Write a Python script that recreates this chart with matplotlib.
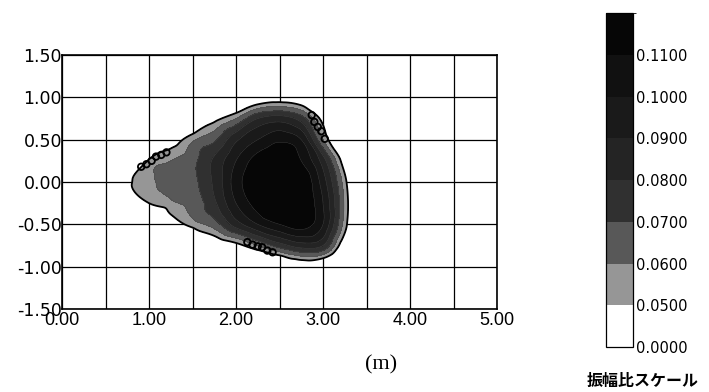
import numpy as np
import matplotlib
matplotlib.use("Agg")
import matplotlib.pyplot as plt
import matplotlib.tri as mtri
from matplotlib.colors import ListedColormap, BoundaryNorm

# amplitude ratio on a 0.25 m grid
xs = [0.5, 0.75, 1.0, 1.25, 1.5, 1.75, 2.0, 2.25, 2.5, 2.75, 3.0, 3.25, 3.5]
ys = [-1.25, -1.0, -0.75, -0.5, -0.25, 0.0, 0.25, 0.5, 0.75, 1.0, 1.25]
amp = [
    [0, 0, 0, 0, 0, 0, 0, 0, 0, 0, 0, 0, 0],
    [0, 0, 0, 0, 0, 0, 0.005, 0.012, 0.022, 0.035, 0.03, 0.01, 0],
    [0, 0, 0, 0, 0.012, 0.035, 0.045, 0.06, 0.075, 0.085, 0.08, 0.038, 0],
    [0, 0, 0.012, 0.04, 0.055, 0.065, 0.085, 0.10, 0.11, 0.115, 0.10, 0.055, 0],
    [0, 0.03, 0.05, 0.058, 0.063, 0.078, 0.10, 0.115, 0.125, 0.12, 0.10, 0.058, 0],
    [0, 0.045, 0.058, 0.062, 0.067, 0.082, 0.105, 0.12, 0.125, 0.12, 0.095, 0.054, 0],
    [0, 0.012, 0.052, 0.06, 0.067, 0.082, 0.10, 0.115, 0.12, 0.11, 0.085, 0.042, 0],
    [0, 0, 0.012, 0.04, 0.058, 0.068, 0.088, 0.10, 0.108, 0.10, 0.06, 0.02, 0],
    [0, 0, 0, 0.005, 0.022, 0.045, 0.06, 0.08, 0.085, 0.075, 0.045, 0.01, 0],
    [0, 0, 0, 0, 0, 0.005, 0.02, 0.035, 0.04, 0.035, 0.012, 0, 0],
    [0, 0, 0, 0, 0, 0, 0, 0, 0, 0, 0, 0, 0],
]

levels = [0.0, 0.05, 0.06, 0.07, 0.08, 0.09, 0.10, 0.11, 0.14]
band_colors = ['none', '#969696', '#585858', '#303030',
               '#242424', '#1a1a1a', '#111111', '#060606']
tick_vals = [0.0, 0.05, 0.06, 0.07, 0.08, 0.09, 0.10, 0.11]

# small circle marks along the outer contour
mark_x = [0.91, 0.97, 1.03, 1.08, 1.14, 1.20,
          2.87, 2.90, 2.94, 2.98, 3.02,
          2.13, 2.19, 2.25, 2.30, 2.36, 2.42]
mark_y = [0.18, 0.21, 0.25, 0.30, 0.32, 0.35,
          0.79, 0.71, 0.65, 0.60, 0.51,
          -0.71, -0.74, -0.76, -0.77, -0.81, -0.83]

X, Y = np.meshgrid(xs, ys)
Z = np.array(amp)
tri = mtri.Triangulation(X.ravel(), Y.ravel())
refiner = mtri.UniformTriRefiner(tri)
interp = mtri.CubicTriInterpolator(tri, Z.ravel(), kind='geom')
tri_f, z_f = refiner.refine_field(Z.ravel(), triinterpolator=interp, subdiv=4)

cmap = ListedColormap(band_colors)
norm = BoundaryNorm(levels, cmap.N)

fig = plt.figure(figsize=(7.09, 3.92), dpi=100)
ax = fig.add_axes([0.0875, 0.2117, 0.6135, 0.6480])

cf = ax.tricontourf(tri_f, z_f, levels=levels, cmap=cmap, norm=norm)
ax.tricontour(tri_f, z_f, levels=levels[2:-1], colors='#4a4a4a', linewidths=0.3)
ax.tricontour(tri_f, z_f, levels=[0.05], colors='black', linewidths=1.3)
ax.scatter(mark_x, mark_y, s=22, facecolors='none', edgecolors='black',
           linewidths=1.3, zorder=4)

ax.set_xlim(0, 5)
ax.set_ylim(-1.5, 1.5)
ax.set_xticks(np.arange(0, 5.01, 0.5), minor=True)
ax.set_xticks(np.arange(0, 5.01, 1.0))
ax.set_yticks(np.arange(-1.5, 1.51, 0.5))
ax.set_axisbelow(True)
ax.grid(True, which='both', color='black', linewidth=0.9)
ax.tick_params(which='both', length=0)
ax.tick_params(axis='x', pad=2)
ax.tick_params(axis='y', pad=0)
ax.set_xticklabels(['%.2f' % v for v in np.arange(0, 5.01, 1.0)],
                   family='Liberation Sans', fontsize=13)
ax.set_yticklabels(['%.2f' % v if v >= 0 else '-%.2f' % -v for v in np.arange(-1.5, 1.51, 0.5)],
                   family='DejaVu Sans', fontsize=12.5)
for s in ax.spines.values():
    s.set_linewidth(1.2)
fig.text(0.537, 0.07, '(m)', ha='center', va='center',
         family='Liberation Serif', fontsize=16)

cax = fig.add_axes([0.8547, 0.1148, 0.038, 0.852])
cb = fig.colorbar(cf, cax=cax, boundaries=levels, spacing='uniform', ticks=tick_vals)
cb.outline.set_linewidth(0.9)
cax.tick_params(length=0, pad=2)
cax.set_yticklabels(['%.4f' % v for v in tick_vals], family='DejaVu Sans', fontsize=10.5)
fig.text(0.907, 0.028, '振幅比スケール', ha='center', va='center',
         family=['Noto Sans CJK JP', 'DejaVu Sans'], fontsize=11.5, fontweight='bold')

fig.savefig('out.png', dpi=100)
